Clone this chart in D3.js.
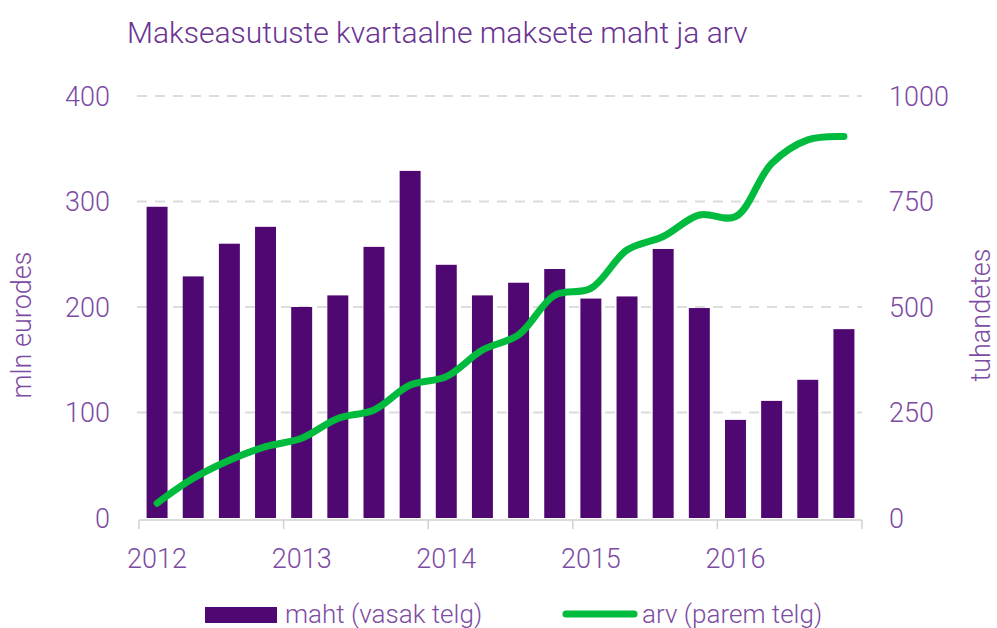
<!DOCTYPE html>
<html>
<head>
<meta charset="utf-8">
<script src="https://cdn.jsdelivr.net/npm/d3@7/dist/d3.min.js"></script>
<style>
  html, body { margin: 0; padding: 0; background: #fff; }
  svg { display: block; }
  text { font-family: Roboto, "Noto Sans", sans-serif; font-weight: 300; }
</style>
</head>
<body>
<svg id="chart" width="997" height="628"></svg>
<script>
// ---- data ----
const title = "Makseasutuste kvartaalne maksete maht ja arv";
const quarters = [
  "2012 Q1","2012 Q2","2012 Q3","2012 Q4",
  "2013 Q1","2013 Q2","2013 Q3","2013 Q4",
  "2014 Q1","2014 Q2","2014 Q3","2014 Q4",
  "2015 Q1","2015 Q2","2015 Q3","2015 Q4",
  "2016 Q1","2016 Q2","2016 Q3","2016 Q4"
];
// maht, mln eurodes (left axis)
const maht = [295, 229, 260, 276, 200, 211, 257, 329, 240, 211,
              223, 236, 208, 210, 255, 199, 93, 111, 131, 179];
// arv, tuhandetes (right axis)
const arv = [35, 94, 137, 169, 189, 236, 256, 315, 335, 398,
             434, 528, 544, 635, 667, 718, 714, 840, 896, 904];
const years = ["2012", "2013", "2014", "2015", "2016"];
const leftTicks = [0, 100, 200, 300, 400];
const rightTicks = [0, 250, 500, 750, 1000];
const seriesNames = ["maht (vasak telg)", "arv (parem telg)"];
const axisTitles = ["mln eurodes", "tuhandetes"];

// ---- style ----
const purple = "#4f0872";
const green = "#00bb3d";
const textColor = "#7d4ba3";
const titleColor = "#6a3393";

const svg = d3.select("#chart");
const plotLeft = 139, plotRight = 862, plotTop = 96, plotBottom = 518;

const x = d3.scaleBand().domain(quarters).range([plotLeft, plotRight])
  .paddingInner(0.42).paddingOuter(0.21);
const xStep = x.step();
const yL = d3.scaleLinear().domain([0, 400]).range([plotBottom, plotTop]);
const yR = d3.scaleLinear().domain([0, 1000]).range([plotBottom, plotTop]);

// title
svg.append("text").attr("x", 127).attr("y", 43)
  .attr("fill", titleColor).attr("font-size", 30)
  .text(title);

// gridlines
svg.append("g").selectAll("line").data(leftTicks.filter(d => d > 0)).join("line")
  .attr("x1", plotLeft - 2).attr("x2", plotRight)
  .attr("y1", d => yL(d)).attr("y2", d => yL(d))
  .attr("stroke", "#dcdcdc").attr("stroke-width", 2)
  .attr("stroke-dasharray", "10,8");

// bars
svg.append("g").selectAll("rect").data(quarters).join("rect")
  .attr("x", d => x(d)).attr("width", x.bandwidth())
  .attr("y", (d, i) => yL(maht[i]))
  .attr("height", (d, i) => yL(0) - yL(maht[i]))
  .attr("fill", purple);

// x axis line + year ticks
const xAxisY = plotBottom + 2;
svg.append("line").attr("x1", plotLeft).attr("x2", plotRight)
  .attr("y1", xAxisY).attr("y2", xAxisY)
  .attr("stroke", "#d0d0d0").attr("stroke-width", 1.5);
const boundaries = years.map((y, i) => x(quarters[i * 4]) - xStep * 0.21);
boundaries.push(plotRight);
svg.append("g").selectAll("line").data(boundaries).join("line")
  .attr("x1", d => d).attr("x2", d => d)
  .attr("y1", xAxisY).attr("y2", xAxisY + 9)
  .attr("stroke", "#d0d0d0").attr("stroke-width", 1.5);

// x labels
svg.append("g").selectAll("text").data(years).join("text")
  .attr("x", (d, i) => x(quarters[i * 4]) + x.bandwidth() / 2)
  .attr("y", 568)
  .attr("text-anchor", "middle")
  .attr("fill", textColor).attr("font-size", 27)
  .text(d => d);

// left axis labels
svg.append("g").selectAll("text").data(leftTicks).join("text")
  .attr("x", 110).attr("y", d => yL(d))
  .attr("dy", "0.36em")
  .attr("text-anchor", "end")
  .attr("fill", textColor).attr("font-size", 27)
  .text(d => d);

// right axis labels
svg.append("g").selectAll("text").data(rightTicks).join("text")
  .attr("x", 889).attr("y", d => yR(d))
  .attr("dy", "0.36em")
  .attr("text-anchor", "start")
  .attr("fill", textColor).attr("font-size", 27)
  .text(d => d);

// axis titles
svg.append("text")
  .attr("transform", "translate(31,325) rotate(-90)")
  .attr("text-anchor", "middle")
  .attr("fill", textColor).attr("font-size", 27)
  .text(axisTitles[0]);
svg.append("text")
  .attr("transform", "translate(990,315) rotate(-90)")
  .attr("text-anchor", "middle")
  .attr("fill", textColor).attr("font-size", 27)
  .text(axisTitles[1]);

// line
const line = d3.line()
  .x((d, i) => x(quarters[i]) + x.bandwidth() / 2)
  .y(d => yR(d))
  .curve(d3.curveCatmullRom.alpha(0.5));
svg.append("path").datum(arv)
  .attr("d", line)
  .attr("fill", "none").attr("stroke", green)
  .attr("stroke-width", 7).attr("stroke-linecap", "round")
  .attr("stroke-linejoin", "round");

// legend
const lg = svg.append("g");
lg.append("rect").attr("x", 205).attr("y", 607).attr("width", 72).attr("height", 16)
  .attr("fill", purple);
lg.append("text").attr("x", 285).attr("y", 623)
  .attr("fill", textColor).attr("font-size", 26)
  .text(seriesNames[0]);
lg.append("line").attr("x1", 566).attr("x2", 634).attr("y1", 614).attr("y2", 614)
  .attr("stroke", green).attr("stroke-width", 7).attr("stroke-linecap", "round");
lg.append("text").attr("x", 642).attr("y", 623)
  .attr("fill", textColor).attr("font-size", 26)
  .text(seriesNames[1]);
</script>
</body>
</html>
